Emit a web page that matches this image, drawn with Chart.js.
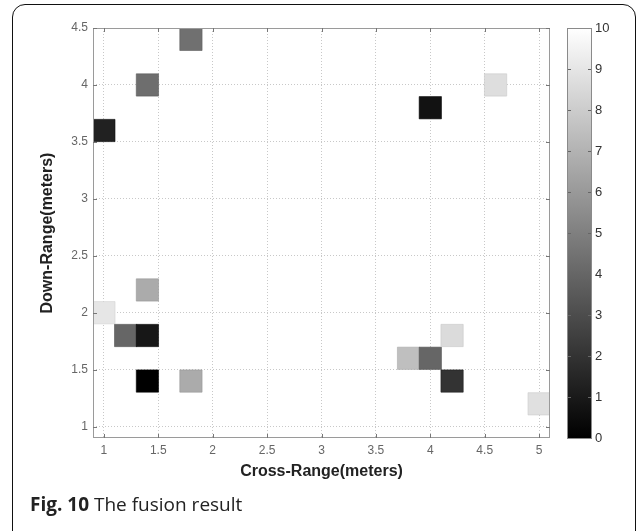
<!DOCTYPE html>
<html><head><meta charset="utf-8">
<script src="https://cdn.jsdelivr.net/npm/chart.js@4/dist/chart.umd.min.js"></script>
<style>
html,body{margin:0;padding:0;background:#fff;}
#wrap{position:relative;width:637px;height:531px;overflow:hidden;background:#fff;}
#frame{position:absolute;left:12px;top:4px;width:624px;height:540px;border:1.5px solid #111;border-radius:13px;box-sizing:border-box;}
#cap{position:absolute;left:30px;top:491px;font-family:"Open Sans",sans-serif;font-size:19px;color:#222;white-space:nowrap;}
#cap b{font-weight:700;}
canvas{position:absolute;left:0;top:0;}
</style></head>
<body><div id="wrap"><div id="frame"></div><canvas id="c" width="637" height="531"></canvas><div id="cap"><b>Fig. 10</b> The fusion result</div></div>
<script>
// Cell centres (meters) and fused intensity (0-10 grey scale)
const crossRange = [1.8, 1.4, 1.0, 4.0, 4.6, 1.4, 1.0, 1.2, 1.4, 1.4, 1.8, 3.8, 4.0, 4.2, 4.2, 5.0];
const downRange  = [4.4, 4.0, 3.6, 3.8, 4.0, 2.2, 2.0, 1.8, 1.8, 1.4, 1.4, 1.6, 1.6, 1.8, 1.4, 1.2];
const intensity  = [4.4, 4.3, 1.3, 0.7, 8.7, 6.7, 9.0, 4.0, 0.9, 0.0, 6.7, 7.5, 4.0, 8.6, 2.0, 8.8];
const cellSize = 0.2;
const xTicks = [1, 1.5, 2, 2.5, 3, 3.5, 4, 4.5, 5];
const yTicks = [1, 1.5, 2, 2.5, 3, 3.5, 4, 4.5];
const cbTicks = [0, 1, 2, 3, 4, 5, 6, 7, 8, 9, 10];

function gray(v, d) {
  const g = Math.max(0, Math.min(255, Math.round(v / 10 * 255) - (d || 0)));
  return 'rgb(' + g + ',' + g + ',' + g + ')';
}
function cellRadius(ctx) {
  const s = ctx.chart.scales;
  const w = Math.abs(s.x.getPixelForValue(cellSize) - s.x.getPixelForValue(0));
  const h = Math.abs(s.y.getPixelForValue(0) - s.y.getPixelForValue(cellSize));
  return (w + h) / 4 / Math.SQRT1_2;
}

const deco = {
  id: 'deco',
  afterDraw(chart) {
    const {ctx, chartArea: a, scales} = chart;
    const x = scales.x, y = scales.y, cb = scales.cb;
    ctx.save();
    // axes box
    ctx.strokeStyle = '#9a9a9a';
    ctx.lineWidth = 1;
    ctx.strokeRect(Math.round(a.left) + 0.5, Math.round(a.top) + 0.5, Math.round(a.right - a.left) - 1, Math.round(a.bottom - a.top) - 1);
    // inward tick marks
    ctx.strokeStyle = '#777';
    ctx.beginPath();
    xTicks.forEach(v => {
      const px = Math.round(x.getPixelForValue(v)) + 0.5;
      ctx.moveTo(px, a.bottom); ctx.lineTo(px, a.bottom - 4);
      ctx.moveTo(px, a.top); ctx.lineTo(px, a.top + 4);
    });
    yTicks.forEach(v => {
      const py = Math.round(y.getPixelForValue(v)) + 0.5;
      ctx.moveTo(a.left, py); ctx.lineTo(a.left + 4, py);
      ctx.moveTo(a.right, py); ctx.lineTo(a.right - 4, py);
    });
    ctx.stroke();
    // colour bar
    const top = cb.getPixelForValue(10), bot = cb.getPixelForValue(0);
    const L = cb.left + 17, W = 25;
    const grad = ctx.createLinearGradient(0, bot, 0, top);
    grad.addColorStop(0, '#000');
    grad.addColorStop(1, '#fff');
    ctx.fillStyle = grad;
    ctx.fillRect(L, top, W, bot - top);
    ctx.strokeStyle = '#8a8a8a';
    ctx.strokeRect(L + 0.5, top + 0.5, W - 1, bot - top);
    ctx.strokeStyle = '#666';
    ctx.beginPath();
    cbTicks.forEach(v => {
      if (v === 0 || v === 10) return;
      const py = Math.round(cb.getPixelForValue(v)) + 0.5;
      ctx.moveTo(L + 1, py); ctx.lineTo(L + 4, py);
      ctx.moveTo(L + W - 1, py); ctx.lineTo(L + W - 4, py);
    });
    ctx.stroke();
    ctx.restore();
  }
};

const fam = '"Liberation Sans", Arial, sans-serif';
const tickFont = {family: fam, size: 12};
const titleFont = {family: fam, size: 16, weight: 'bold'};
function fixPad(s) { s.paddingTop = 6; s.paddingBottom = 6; s.paddingLeft = 6; s.paddingRight = 6; }

new Chart(document.getElementById('c'), {
  type: 'scatter',
  data: {
    datasets: [{
      data: crossRange.map((cx, i) => ({x: cx, y: downRange[i], v: intensity[i]})),
      pointStyle: 'rect',
      pointRadius: cellRadius,
      pointHoverRadius: cellRadius,
      backgroundColor: c => gray(c.raw ? c.raw.v : 0),
      borderColor: c => gray(c.raw ? c.raw.v : 0, 20),
      borderWidth: 0.6
    }]
  },
  options: {
    responsive: false,
    animation: false,
    events: [],
    layout: {padding: {left: 30, top: 28, right: 0, bottom: 50}},
    plugins: {legend: {display: false}, tooltip: {enabled: false}},
    scales: {
      x: {
        type: 'linear', min: 0.9, max: 5.1, z: 1,
        afterBuildTicks: s => { s.ticks = xTicks.map(v => ({value: v})); },
        afterFit: s => { s.height = 43; fixPad(s); },
        grid: {color: '#c8c8c8', lineWidth: 1, drawTicks: false},
        border: {display: false, dash: [1, 2]},
        ticks: {font: tickFont, color: '#666', padding: 5, maxRotation: 0, callback: v => String(v)},
        title: {display: true, text: 'Cross-Range(meters)', font: titleFont, color: '#222', padding: {top: 0, bottom: 0}}
      },
      y: {
        type: 'linear', min: 0.9, max: 4.5, z: 1,
        afterBuildTicks: s => { s.ticks = yTicks.map(v => ({value: v})); },
        afterFit: s => { s.width = 63; fixPad(s); },
        grid: {color: '#c8c8c8', lineWidth: 1, drawTicks: false},
        border: {display: false, dash: [1, 2]},
        ticks: {font: tickFont, color: '#666', padding: 5, callback: v => String(v)},
        title: {display: true, text: 'Down-Range(meters)', font: titleFont, color: '#222', padding: {top: 8, bottom: 0}}
      },
      cb: {
        type: 'linear', position: 'right', min: 0, max: 10,
        afterBuildTicks: s => { s.ticks = cbTicks.map(v => ({value: v})); },
        afterFit: s => { s.width = 87; fixPad(s); },
        grid: {display: false, drawTicks: false},
        border: {display: false},
        ticks: {font: {family: fam, size: 13}, color: '#333', padding: 45, callback: v => String(v)}
      }
    }
  },
  plugins: [deco]
});
</script>
</body></html>
